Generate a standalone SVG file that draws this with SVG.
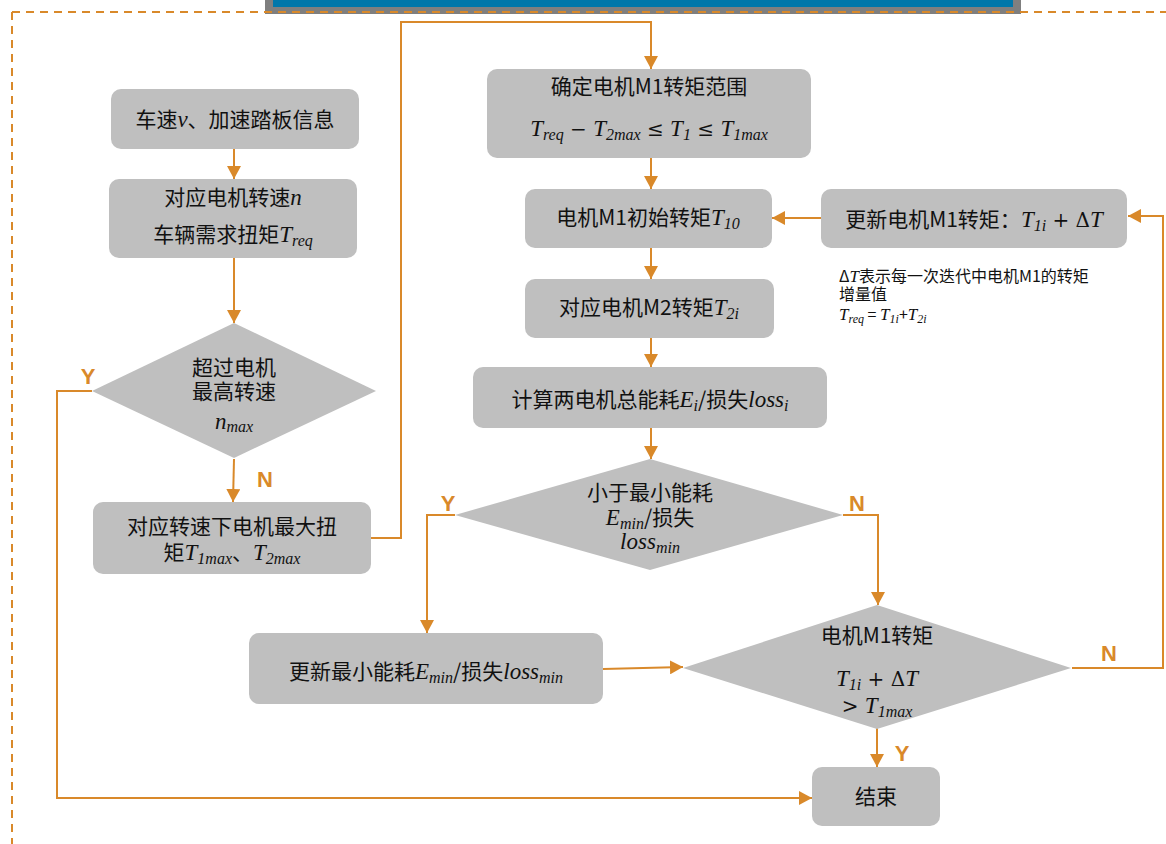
<svg xmlns="http://www.w3.org/2000/svg" width="1166" height="844" viewBox="0 0 1166 844">
<style>
.box{fill:#bfbfbf}
.t{font-family:"Noto Sans CJK SC","Noto Sans",sans-serif;font-size:21px;fill:#111;text-anchor:middle}
.m{font-family:"Liberation Serif","DejaVu Serif",serif;font-style:italic;font-size:23px}
.s{font-size:16px}
.o{font-family:"DejaVu Serif",serif;font-style:normal;font-size:20px}
.c{fill:none;stroke:#d9892a;stroke-width:2}
.lab{font-family:"Liberation Sans",Arial,sans-serif;font-weight:bold;font-size:22px;fill:#d9892a;text-anchor:middle}
.note{font-family:"Noto Sans CJK SC","Noto Sans",sans-serif;font-size:16px;fill:#111}
.nm{font-family:"Liberation Serif","DejaVu Serif",serif;font-style:italic;font-size:17px}
.ns{font-size:12px}
</style>
<defs>
<marker id="ah" markerUnits="userSpaceOnUse" markerWidth="14" markerHeight="14" viewBox="0 0 14 14" refX="13" refY="7" orient="auto">
<path d="M0,0 L13,7 L0,14 z" fill="#d9892a"/>
</marker>
</defs>
<rect width="1166" height="844" fill="#fff"/>
<g id="frame">
<rect x="265" y="0" width="756" height="14" fill="#7f7f7f"/>
<rect x="273" y="0" width="740" height="7" fill="#0077aa"/>
<line x1="12" y1="12" x2="1166" y2="12" stroke="#d9892a" stroke-width="2" stroke-dasharray="8 6"/>
<line x1="12" y1="12" x2="12" y2="844" stroke="#d9892a" stroke-width="2" stroke-dasharray="8 6"/>
</g>
<g id="connectors">
<line class="c" x1="234" y1="149" x2="234" y2="179" marker-end="url(#ah)"/>
<line class="c" x1="234" y1="258" x2="234" y2="323" marker-end="url(#ah)"/>
<line class="c" x1="234" y1="459" x2="233" y2="502" marker-end="url(#ah)"/>
<polyline class="c" points="371,538 401,538 401,22 651,22 651,69" marker-end="url(#ah)"/>
<line class="c" x1="651" y1="158" x2="651" y2="189" marker-end="url(#ah)"/>
<line class="c" x1="651" y1="248" x2="651" y2="279" marker-end="url(#ah)"/>
<line class="c" x1="651" y1="338" x2="651" y2="367" marker-end="url(#ah)"/>
<line class="c" x1="651" y1="428" x2="651" y2="459" marker-end="url(#ah)"/>
<polyline class="c" points="843,515 878,515 878,605" marker-end="url(#ah)"/>
<polyline class="c" points="455,515 427,515 427,633" marker-end="url(#ah)"/>
<line class="c" x1="603" y1="669" x2="683" y2="667" marker-end="url(#ah)"/>
<polyline class="c" points="1072,668 1163,668 1163,216 1128,216" marker-end="url(#ah)"/>
<line class="c" x1="821" y1="218" x2="772" y2="218" marker-end="url(#ah)"/>
<line class="c" x1="877" y1="728" x2="877" y2="767" marker-end="url(#ah)"/>
<polyline class="c" points="92,391 57,391 57,798 812,798" marker-end="url(#ah)"/>
<text class="lab" x="88" y="384">Y</text>
<text class="lab" x="265" y="487">N</text>
<text class="lab" x="448" y="511">Y</text>
<text class="lab" x="857" y="511">N</text>
<text class="lab" x="1109" y="661">N</text>
<text class="lab" x="902" y="761">Y</text>
</g>
<g id="n1">
<rect class="box" x="111" y="89" width="248" height="60" rx="10"/>
<text class="t" x="235" y="127">车速<tspan class="m">v</tspan>、加速踏板信息</text>
</g>
<g id="n2">
<rect class="box" x="109" y="179" width="248" height="79" rx="10"/>
<text class="t" x="233" y="205">对应电机转速<tspan class="m">n</tspan></text>
<text class="t" x="233" y="242">车辆需求扭矩<tspan class="m">T</tspan><tspan class="m s" dy="4">req</tspan></text>
</g>
<g id="d1">
<polygon class="box" points="234,323 376,391 234,458 92,391"/>
<text class="t" x="234" y="375">超过电机</text>
<text class="t" x="234" y="399">最高转速</text>
<text class="t" x="234" y="429"><tspan class="m">n</tspan><tspan class="m s" dy="3">max</tspan></text>
</g>
<g id="n3">
<rect class="box" x="93" y="502" width="278" height="72" rx="10"/>
<text class="t" x="232" y="534">对应转速下电机最大扭</text>
<text class="t" x="232" y="560">矩<tspan class="m">T</tspan><tspan class="m s" dy="4">1max</tspan><tspan dy="-4">、</tspan><tspan class="m">T</tspan><tspan class="m s" dy="4">2max</tspan></text>
</g>
<g id="n4">
<rect class="box" x="487" y="69" width="324" height="89" rx="10"/>
<text class="t" x="649" y="94">确定电机M1转矩范围</text>
<text class="t" x="649" y="136"><tspan class="m">T</tspan><tspan class="m s" dy="4">req</tspan><tspan class="o" dy="-4"> − </tspan><tspan class="m">T</tspan><tspan class="m s" dy="4">2max</tspan><tspan class="o" dy="-4"> ≤ </tspan><tspan class="m">T</tspan><tspan class="m s" dy="4">1</tspan><tspan class="o" dy="-4"> ≤ </tspan><tspan class="m">T</tspan><tspan class="m s" dy="4">1max</tspan></text>
</g>
<g id="n5">
<rect class="box" x="525" y="189" width="247" height="59" rx="10"/>
<text class="t" x="648" y="225">电机M1初始转矩<tspan class="m">T</tspan><tspan class="m s" dy="4">10</tspan></text>
</g>
<g id="n6">
<rect class="box" x="821" y="189" width="306" height="59" rx="10"/>
<text class="t" x="974" y="227">更新电机M1转矩：<tspan class="m">T</tspan><tspan class="m s" dy="4">1i</tspan><tspan class="o" dy="-4"> + Δ</tspan><tspan class="m">T</tspan></text>
</g>
<g id="note">
<text class="note" x="839" y="282">Δ<tspan class="nm">T</tspan>表示每一次迭代中电机M1的转矩</text>
<text class="note" x="839" y="300">增量值</text>
<text class="note" x="839" y="320"><tspan class="nm">T</tspan><tspan class="nm ns" dy="3">req</tspan><tspan dy="-3"> = </tspan><tspan class="nm">T</tspan><tspan class="nm ns" dy="3">1i</tspan><tspan dy="-3">+</tspan><tspan class="nm">T</tspan><tspan class="nm ns" dy="3">2i</tspan></text>
</g>
<g id="n7">
<rect class="box" x="525" y="279" width="249" height="59" rx="10"/>
<text class="t" x="649" y="315">对应电机M2转矩<tspan class="m">T</tspan><tspan class="m s" dy="4">2i</tspan></text>
</g>
<g id="n8">
<rect class="box" x="473" y="367" width="354" height="61" rx="10"/>
<text class="t" x="650" y="407">计算两电机总能耗<tspan class="m">E</tspan><tspan class="m s" dy="4">i</tspan><tspan dy="-4">/损失</tspan><tspan class="m">loss</tspan><tspan class="m s" dy="4">i</tspan></text>
</g>
<g id="d2">
<polygon class="box" points="650,459 843,515 650,570 455,515"/>
<text class="t" x="650" y="500">小于最小能耗</text>
<text class="t" x="650" y="525"><tspan class="m">E</tspan><tspan class="m s" dy="4">min</tspan><tspan dy="-4">/损失</tspan></text>
<text class="t" x="650" y="549"><tspan class="m">loss</tspan><tspan class="m s" dy="4">min</tspan></text>
</g>
<g id="n9">
<rect class="box" x="249" y="633" width="354" height="71" rx="10"/>
<text class="t" x="426" y="679">更新最小能耗<tspan class="m">E</tspan><tspan class="m s" dy="4">min</tspan><tspan dy="-4">/损失</tspan><tspan class="m">loss</tspan><tspan class="m s" dy="4">min</tspan></text>
</g>
<g id="d3">
<polygon class="box" points="877,605 1071,668 877,729 683,668"/>
<text class="t" x="877" y="643">电机M1转矩</text>
<text class="t" x="877" y="686"><tspan class="m">T</tspan><tspan class="m s" dy="4">1i</tspan><tspan class="o" dy="-4"> + Δ</tspan><tspan class="m">T</tspan></text>
<text class="t" x="877" y="713"><tspan class="o">&gt; </tspan><tspan class="m">T</tspan><tspan class="m s" dy="4">1max</tspan></text>
</g>
<g id="n10">
<rect class="box" x="812" y="767" width="128" height="59" rx="10"/>
<text class="t" x="876" y="804">结束</text>
</g>
</svg>
